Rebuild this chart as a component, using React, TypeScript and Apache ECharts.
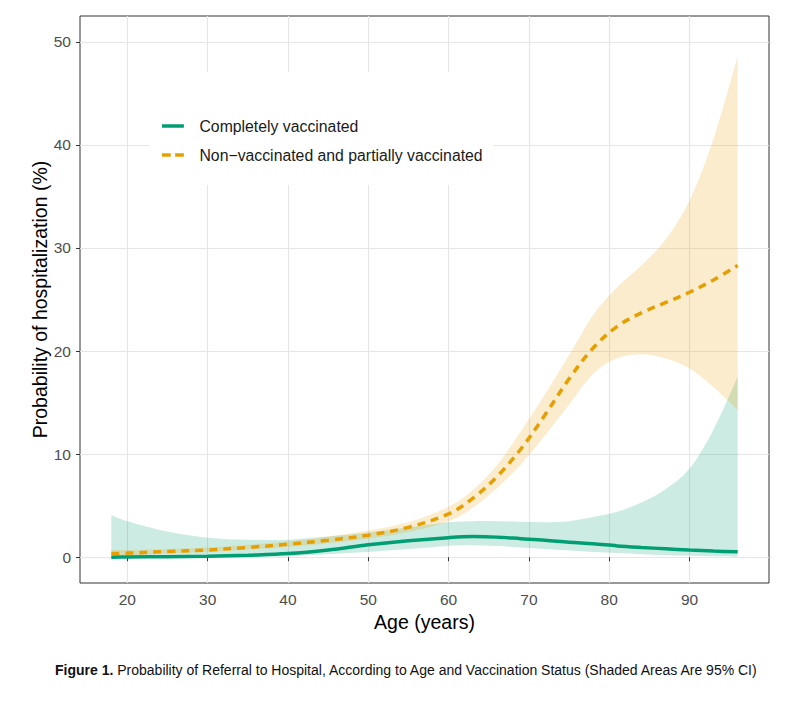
import React, { useEffect, useRef } from "react";
import * as echarts from "echarts";

const ages = [18, 20, 25, 30, 35, 40, 45, 50, 55, 60, 63, 66, 69, 72, 75, 78, 81, 84, 87, 90, 93, 96];

// completely vaccinated
const vaccLine = [0.0, 0.02, 0.05, 0.1, 0.2, 0.35, 0.7, 1.2, 1.6, 1.9, 2.0, 1.95, 1.8, 1.65, 1.45, 1.3, 1.1, 0.95, 0.82, 0.7, 0.6, 0.52];
const vaccLow = [0, 0, 0, 0, 0, 0.1, 0.3, 0.5, 0.8, 1.1, 1.15, 1.1, 0.95, 0.8, 0.65, 0.5, 0.4, 0.3, 0.2, 0.15, 0.1, 0.05];
const vaccHigh = [4.1, 3.5, 2.5, 1.9, 1.7, 1.7, 2.0, 2.4, 2.9, 3.4, 3.5, 3.5, 3.45, 3.4, 3.5, 3.9, 4.4, 5.3, 6.6, 8.6, 12.4, 17.5];

// non-vaccinated and partially vaccinated
const nonVaccLine = [0.35, 0.4, 0.55, 0.7, 0.95, 1.26, 1.65, 2.14, 2.9, 4.2, 5.7, 7.8, 10.5, 13.8, 17.3, 20.3, 22.4, 23.7, 24.7, 25.7, 26.9, 28.3];
const nonVaccLow = [0.1, 0.15, 0.35, 0.5, 0.75, 1.0, 1.35, 1.8, 2.45, 3.5, 4.8, 6.7, 9.0, 11.8, 14.8, 17.8, 19.3, 19.7, 19.3, 18.3, 16.5, 14.3];
const nonVaccHigh = [0.7, 0.7, 0.8, 0.95, 1.2, 1.55, 2.0, 2.6, 3.4, 4.9, 6.5, 8.9, 12.2, 15.8, 19.6, 23.5, 26.2, 28.3, 30.8, 34.6, 40.6, 48.6];

const xTicks = [20, 30, 40, 50, 60, 70, 80, 90];
const yTicks = [0, 10, 20, 30, 40, 50];

const VACC = "Completely vaccinated";
const NONVACC = "Non\u2212vaccinated and partially vaccinated";

const GREEN = "#009E73";
const ORANGE = "#E69F00";

const pairs = (ys: number[]) => ages.map((a, i) => [a, ys[i]]);

// catmull-rom through already projected points, as svg path commands
function curve(pts: number[][]) {
  let d = "";
  for (let i = 0; i < pts.length - 1; i++) {
    const p0 = pts[Math.max(i - 1, 0)];
    const p1 = pts[i];
    const p2 = pts[i + 1];
    const p3 = pts[Math.min(i + 2, pts.length - 1)];
    const c1 = [p1[0] + (p2[0] - p0[0]) / 6, p1[1] + (p2[1] - p0[1]) / 6];
    const c2 = [p2[0] - (p3[0] - p1[0]) / 6, p2[1] - (p3[1] - p1[1]) / 6];
    d += `C${c1[0]},${c1[1]} ${c2[0]},${c2[1]} ${p2[0]},${p2[1]}`;
  }
  return d;
}

// shaded confidence band: upper edge, then lower edge back, through the axis scales
function bandSeries(name: string, lo: number[], hi: number[], color: string) {
  return {
    name,
    type: "custom",
    silent: true,
    data: pairs(lo),
    encode: { x: 0, y: 1 },
    renderItem: (params: any, api: any) => {
      if (params.dataIndex !== 0) return null;
      const top = ages.map((a, i) => api.coord([a, hi[i]]));
      const bottom = ages.map((a, i) => api.coord([a, lo[i]])).reverse();
      const pathData =
        `M${top[0][0]},${top[0][1]}` + curve(top) +
        `L${bottom[0][0]},${bottom[0][1]}` + curve(bottom) + "Z";
      return {
        type: "path",
        shape: { pathData },
        style: { fill: color, opacity: 0.2 },
      };
    },
  };
}

export default function App() {
  const ref = useRef<HTMLDivElement>(null);

  useEffect(() => {
    if (!ref.current) return;
    const chart = echarts.init(ref.current, null, { renderer: "svg" });
    const font = "Liberation Sans, Arial, sans-serif";

    chart.setOption({
      animation: false,
      textStyle: { fontFamily: font },
      grid: {
        left: 80, top: 16, width: 689, height: 567,
        show: true, borderColor: "#333", borderWidth: 1, backgroundColor: "transparent",
      },
      legend: {
        data: [
          { name: VACC, icon: "path://M0,0H25V4H0Z" },
          { name: NONVACC, icon: "path://M0,0H10V4H0Z M15,0H25V4H15Z" },
        ],
        orient: "vertical",
        left: 149,
        top: 72,
        backgroundColor: "#fff",
        padding: [46, 11, 22, 13],
        itemGap: 13,
        itemWidth: 25,
        itemHeight: 3.5,
        textStyle: { fontSize: 15.8, color: "#1a1a1a", fontFamily: font, padding: [0, 0, 0, 9] },
      },
      xAxis: {
        type: "value",
        min: 14.1,
        max: 99.9,
        name: "Age (years)",
        nameLocation: "middle",
        nameGap: 28,
        nameTextStyle: { fontSize: 19.5, color: "#000", fontFamily: font },
        axisLine: { show: false },
        axisTick: { show: true, length: 4, customValues: xTicks, lineStyle: { color: "#333" } },
        axisLabel: { customValues: xTicks, fontSize: 15.5, color: "#4d4d4d", margin: 8 },
        splitLine: { show: true, lineStyle: { color: "#e6e6e6", width: 1.2 } },
      },
      yAxis: {
        type: "value",
        min: -2.5,
        max: 52.5,
        name: "Probability of hospitalization (%)",
        nameLocation: "middle",
        nameGap: 30,
        nameMoveOverlap: false,
        nameTextStyle: { fontSize: 19.5, color: "#000", fontFamily: font },
        axisLine: { show: false },
        axisTick: { show: true, length: 4, customValues: yTicks, lineStyle: { color: "#333" } },
        axisLabel: { customValues: yTicks, fontSize: 15.5, color: "#4d4d4d", margin: 9 },
        splitLine: { show: true, lineStyle: { color: "#e6e6e6", width: 1.2 } },
      },
      series: [
        bandSeries("vaccBand", vaccLow, vaccHigh, GREEN),
        bandSeries("nonVaccBand", nonVaccLow, nonVaccHigh, ORANGE),
        {
          name: VACC, type: "line", symbol: "none", smooth: 0.35, data: pairs(vaccLine),
          itemStyle: { color: GREEN }, lineStyle: { color: GREEN, width: 3.5 }, z: 5,
        },
        {
          name: NONVACC, type: "line", symbol: "none", smooth: 0.35, data: pairs(nonVaccLine),
          itemStyle: { color: ORANGE }, lineStyle: { color: ORANGE, width: 3.5, type: [8, 6] }, z: 6,
        },
      ],
      graphic: [
        {
          type: "text",
          left: 55,
          top: 663,
          style: {
            text: "{b|Figure 1.} Probability of Referral to Hospital, According to Age and Vaccination Status (Shaded Areas Are 95% CI)",
            fontSize: 14,
            fontFamily: font,
            fill: "#111",
            rich: { b: { fontWeight: "bold", fontSize: 14, fontFamily: font, fill: "#111" } },
          },
        },
      ],
    });

    return () => chart.dispose();
  }, []);

  return <div ref={ref} style={{ position: "absolute", left: 0, top: 0, width: 800, height: 704, background: "#fff" }} />;
}
